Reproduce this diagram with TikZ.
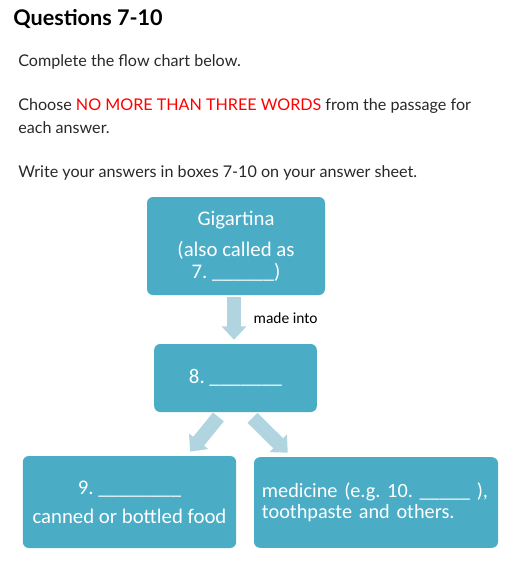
\documentclass[tikz,border=0pt]{standalone}
\usepackage{fontspec}
\setmainfont{Lato}
\newfontfamily\boxfont{Carlito}
\usetikzlibrary{
    arrows.meta,
    positioning
}
\usepackage{xcolor}
\definecolor{boxblue}{RGB}{75,172,198}
\definecolor{arrowblue}{RGB}{176,212,224}
\definecolor{textgray}{RGB}{40,40,40}
\definecolor{warnred}{RGB}{255,0,0}
\tikzset{
    % Heading and instructions
    heading/.style={
        anchor=base west,
        inner sep=0pt,
        font=\fontsize{16.2}{19}\selectfont\bfseries,
        text=black
    },
    instruction/.style={
        anchor=base west,
        inner sep=0pt,
        font=\fontsize{12.1}{14}\selectfont,
        text=textgray
    },
    % Flow chart boxes
    flowbox/.style={
        rectangle,
        draw=none,
        fill=boxblue,
        rounded corners=4.5pt,
        align=center,
        text=white,
        font=\boxfont\fontsize{15.6}{16.2}\selectfont\frenchspacing
    },
    % Block arrows
    blockarrow/.style={
        -{Triangle[width=18pt,length=10pt]},
        line width=10.5pt,
        draw=arrowblue
    },
    % Labels
    arrowlabel/.style={
        inner sep=0pt,
        font=\boxfont\fontsize{11.6}{13}\selectfont,
        text=black
    }
}

\begin{document}
\begin{tikzpicture}[x=0.75pt, y=-0.75pt]

    \useasboundingbox (0,0) rectangle (511,562);

    % Heading and instructions
    \node[heading] (title) at (13,25) {Questions 7-10};
    \node[instruction] (complete) at (18,66) {Complete the flow chart below.};
    \node[instruction] (choose) at (18,110) {Choose \textcolor{warnred}{NO MORE THAN THREE WORDS} from the passage for};
    \node[instruction] (each) at (18,133) {each answer.};
    \node[instruction] (write) at (18,177) {Write your answers in boxes 7-10 on your answer sheet.};

    % Flow chart
    \node[flowbox, minimum width=133.5pt, minimum height=73.5pt] (gigartina) at (236,246)
        {Gigartina\\[7.5pt](also called as\\7. \_\_\_\_\_\_)};
    \node[flowbox, minimum width=122pt, minimum height=51pt] (product) at (235.5,378)
        {8. \_\_\_\_\_\_\_};
    \node[flowbox, minimum width=160pt, minimum height=69pt] (food) at (129.5,502)
        {9. \_\_\_\_\_\_\_\_\\[5.5pt]canned or bottled food};
    \node[flowbox, minimum width=183pt, minimum height=68pt, inner xsep=6pt, text width=171pt, align=left,
        font=\boxfont\fontsize{15.2}{15.8}\selectfont\frenchspacing] (medicine) at (376,502.5)
        {medicine (e.g.~10.~\_\_\_\_\_~),\\toothpaste and others.};

    % Arrows
    \draw[blockarrow, shorten <=1.5pt, shorten >=3pt] ([xshift=-1.5pt]gigartina.south) -- ([xshift=-1.5pt]gigartina.south |- product.north)
        node[arrowlabel, midway, anchor=west, xshift=9.5pt, yshift=1pt] (madeinto) {made into};
    \draw[blockarrow, shorten <=4.5pt, shorten >=4pt] ([xshift=-10pt]product.south) -- ([xshift=43pt]food.north);
    \draw[blockarrow, shorten <=6pt, shorten >=4.5pt] ([xshift=8.5pt]product.south) -- ([xshift=-63pt]medicine.north);

\end{tikzpicture}
\end{document}
